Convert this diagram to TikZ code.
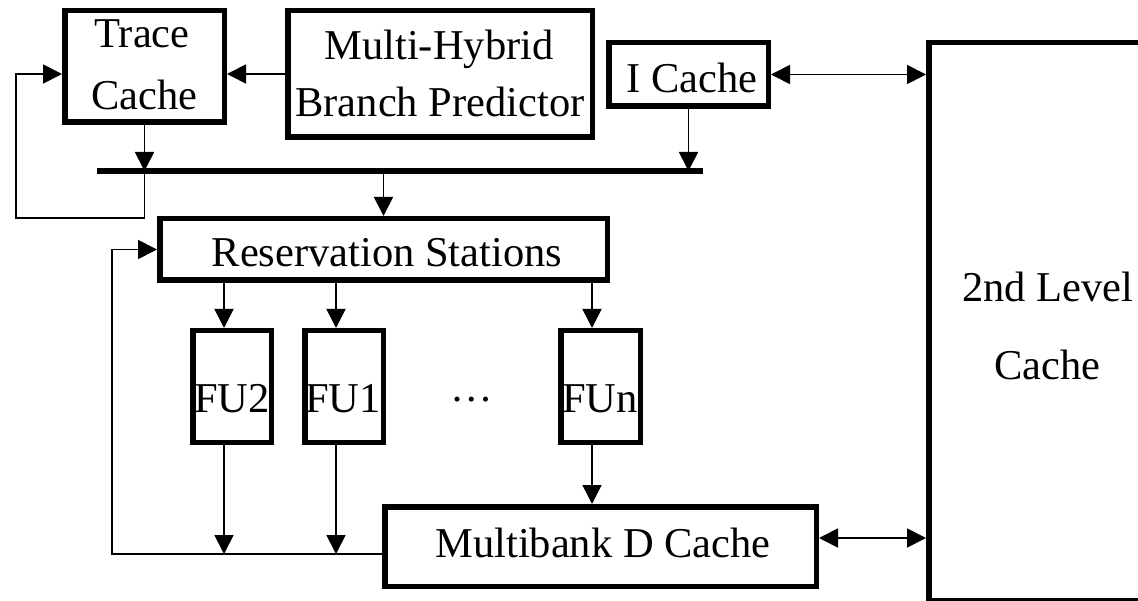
\documentclass[tikz,border=0pt]{standalone}
\usepackage{fontspec}
\setmainfont{Liberation Serif}
\usetikzlibrary{arrows.meta}
\begin{document}
\begin{tikzpicture}[x=1pt,y=-1pt,
  box/.style={draw=black,line width=5.5pt,fill=none,inner sep=0pt,rectangle},
  txt/.style={anchor=base,inner sep=0pt,font=\fontsize{42.5}{50}\selectfont},
  conn/.style={line width=1.8pt},
  arr/.style={conn,-{Triangle[length=19pt,width=19pt]}},
  darr/.style={conn,{Triangle[length=19pt,width=19pt]}-{Triangle[length=19pt,width=19pt]}},
  busline/.style={line width=5.5pt}
]
\useasboundingbox (0,0) rectangle (1138,601);
\clip (0,0) rectangle (1138,601);
% boxes
\node[box,minimum width=159.5pt,minimum height=111.5pt] (tc) at (144.5,66.5) {};
\node[box,minimum width=304.5pt,minimum height=126.5pt] (mh) at (440,74) {};
\node[box,minimum width=159.5pt,minimum height=63.5pt] (ic) at (688.5,74.5) {};
\node[box,minimum width=294.5pt,minimum height=557.5pt] (l2) at (1076,321.5) {};
\node[box,minimum width=447.5pt,minimum height=61.5pt] (rs) at (383.5,249.5) {};
\node[box,minimum width=78.5pt,minimum height=111.5pt] (fu2) at (232,386.5) {};
\node[box,minimum width=78.5pt,minimum height=111.5pt] (fu1) at (344,386.5) {};
\node[box,minimum width=79.5pt,minimum height=111.5pt] (fun) at (600.5,386.5) {};
\node[box,minimum width=431.5pt,minimum height=79.5pt] (dc) at (600.5,546.5) {};
% texts
\node[txt] (tcA) at (142,48) {Trace};
\node[txt] (tcB) at (144.5,110) {Cache};
\node[txt] (mhA) at (439,60) {Multi-Hybrid};
\node[txt] (mhB) at (440,117) {Branch Predictor};
\node[txt] (icT) at (692,93) {I Cache};
\node[txt] (rsT) at (387,267) {Reservation Stations};
\node[txt] (fu2T) at (232,413) {FU2};
\node[txt] (fu1T) at (343,413) {FU1};
\node[txt] (funT) at (600,413) {FUn};
\node[txt] (dots) at (472,402) {…};
\node[txt] (dcT) at (603,557) {Multibank D Cache};
\node[txt] (l2A) at (1048,302) {2nd Level};
\node[txt] (l2B) at (1047.5,380) {Cache};
% helper coordinates
\coordinate (busL) at (97,171);
\coordinate (busR) at (703,171);
\coordinate (fbA) at (16,218);
\coordinate (lp) at (112,554);
\coordinate (x2) at (224,0);
\coordinate (x1) at (336,0);
\coordinate (xn) at (592,0);
\coordinate (yd) at (0,538);
% bus
\draw[busline] (busL) -- (busR);
% connectors
\draw[arr] (mh.west) -- (tc.east |- mh.west);
\draw[arr] (tc.south) -- (tc.south |- busL);
\draw[arr] (tc.south |- busL) -- (tc.south |- fbA) -- (fbA) -- (fbA |- mh.west) -- (tc.west |- mh.west);
\draw[arr] (ic.south) -- (ic.south |- busL);
\draw[arr] (rs.north |- busL) -- (rs.north);
\draw[darr] (ic.east) -- (ic.east -| l2.west);
\draw[arr] (x2 |- rs.south) -- (x2 |- fu2.north);
\draw[arr] (x1 |- rs.south) -- (x1 |- fu1.north);
\draw[arr] (xn |- rs.south) -- (xn |- fun.north);
\draw[arr] (x2 |- fu2.south) -- (x2 |- lp);
\draw[arr] (x1 |- fu1.south) -- (x1 |- lp);
\draw[arr] (xn |- fun.south) -- (xn |- dc.north);
\draw[arr] (dc.west |- lp) -- (lp) -- (lp |- rs.west) -- (rs.west);
\draw[darr] (dc.east |- yd) -- (l2.west |- yd);
\end{tikzpicture}
\end{document}
